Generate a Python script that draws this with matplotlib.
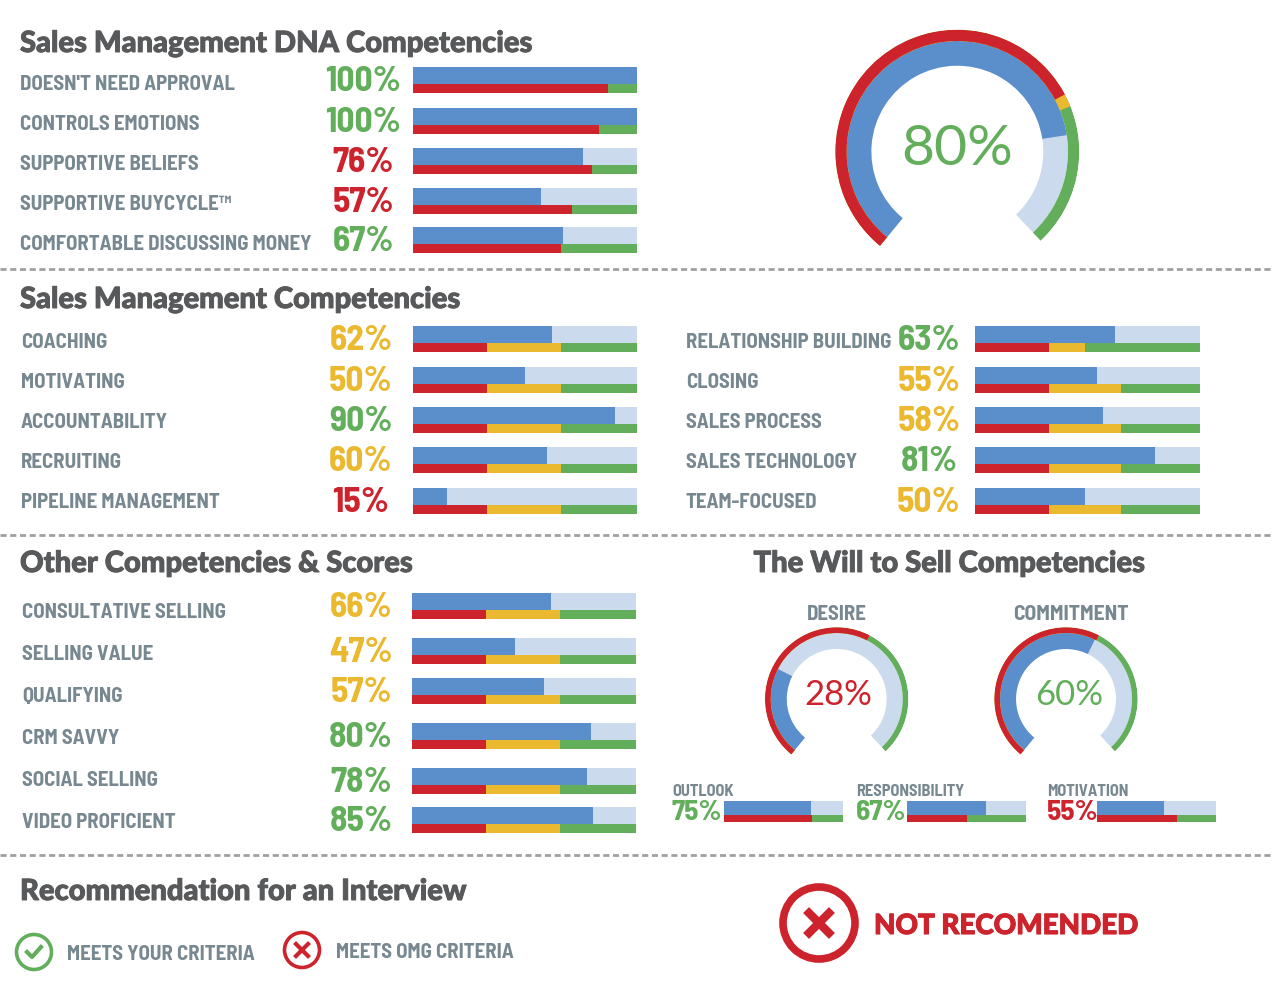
import numpy as np
import matplotlib
matplotlib.use("Agg")
import matplotlib.pyplot as plt
import matplotlib.patheffects as pe
from matplotlib.patches import Circle

BLUE = "#5b8fcc"
LIGHT = "#ccdaee"
RED = "#cc232d"
YELLOW = "#ebb92f"
GREEN = "#62ae5b"
LABEL = "#778891"
TITLE = "#58595b"
DASH = "#a0a0a0"

NARROW = ["Barlow Semi Condensed", "Roboto", "DejaVu Sans"]
HEAD = ["Lato", "DejaVu Sans"]

# DNA rows
dna_labels = ["DOESN'T NEED APPROVAL", "CONTROLS EMOTIONS", "SUPPORTIVE BELIEFS", "SUPPORTIVE BUYCYCLE™", "COMFORTABLE DISCUSSING MONEY"]
dna_scores = [100, 100, 76, 57, 67]
dna_colors = [GREEN, GREEN, RED, RED, GREEN]
dna_red = [87, 83, 80, 71, 66]
dna_yellow = [87, 83, 80, 71, 66]

# sales management, left column
mgmt_labels = ["COACHING", "MOTIVATING", "ACCOUNTABILITY", "RECRUITING", "PIPELINE MANAGEMENT"]
mgmt_scores = [62, 50, 90, 60, 15]
mgmt_colors = [YELLOW, YELLOW, GREEN, YELLOW, RED]
mgmt_red = [33, 33, 33, 33, 33]
mgmt_yellow = [66, 66, 66, 66, 66]

# sales management, right column
mgmt2_labels = ["RELATIONSHIP BUILDING", "CLOSING", "SALES PROCESS", "SALES TECHNOLOGY", "TEAM-FOCUSED"]
mgmt2_scores = [62, 54, 57, 80, 49]
mgmt2_text = [63, 55, 58, 81, 50]
mgmt2_colors = [GREEN, YELLOW, YELLOW, GREEN, YELLOW]
mgmt2_red = [33, 33, 33, 33, 33]
mgmt2_yellow = [49, 65, 65, 65, 65]

# other competencies
other_labels = ["CONSULTATIVE SELLING", "SELLING VALUE", "QUALIFYING", "CRM SAVVY", "SOCIAL SELLING", "VIDEO PROFICIENT"]
other_scores = [62, 46, 59, 80, 78, 81]
other_text = [66, 47, 57, 80, 78, 85]
other_colors = [YELLOW, YELLOW, YELLOW, GREEN, GREEN, GREEN]
other_red = [33, 33, 33, 33, 33, 33]
other_yellow = [66, 66, 66, 66, 66, 66]

# will to sell
small_labels = ["OUTLOOK", "RESPONSIBILITY", "MOTIVATION"]
small_scores = [75, 67, 55]
small_blue = [73, 66, 56]
small_colors = [GREEN, GREEN, RED]
small_red = [74, 50, 67]

# gauges
main_gauge = {"score": 80, "red": 73, "yellow": 75.2, "color": GREEN}
desire_gauge = {"score": 28, "red": 60.5, "yellow": 60.5, "color": RED}
commit_gauge = {"score": 60, "red": 60.5, "yellow": 60.5, "color": GREEN}

fig = plt.figure(figsize=(12.72, 10), dpi=100)
ax = fig.add_axes([0, 0, 1, 1])
ax.set_xlim(0, 1272)
ax.set_ylim(1000, 0)
ax.axis("off")


def score_bar(x, y, w, blue, red, yellow, h1=17, h2=9):
    ax.barh(y, w, h1, left=x, color=LIGHT, align="edge")
    ax.barh(y, w * blue / 100, h1, left=x, color=BLUE, align="edge")
    ax.barh(y + h1, w, h2, left=x, color=GREEN, align="edge")
    ax.barh(y + h1, w * yellow / 100, h2, left=x, color=YELLOW, align="edge")
    ax.barh(y + h1, w * red / 100, h2, left=x, color=RED, align="edge")


def rows(labels, scores, shown, colors, reds, yellows, ys, label_ys, lx, px, bx, bw):
    for i in range(len(labels)):
        ax.text(lx, label_ys[i], labels[i], color=LABEL, fontsize=15, family=NARROW, weight="bold",
                va="center", ha="left")
        ax.text(px, ys[i] + 15, "%d%%" % shown[i], color=colors[i], fontsize=25.5, family=NARROW, weight="bold",
                va="center", ha="center")
        score_bar(bx, ys[i], bw, scores[i], reds[i], yellows[i])


def gauge(cx, cy, r_out, r_ring, r_in, g, fs, tx=0):
    # polar axes placed in pixels, value 0-100 runs clockwise along the arc
    pa = fig.add_axes([(cx - r_out) / 1272, 1 - (cy + r_out) / 1000, 2 * r_out / 1272, 2 * r_out / 1000],
                      projection="polar")
    start = np.radians(230.6)
    span = np.radians(277.5)
    pa.set_theta_offset(start)
    pa.set_theta_direction(-1)
    pa.set_ylim(0, r_out)
    pa.patch.set_alpha(0)
    pa.axis("off")
    scale = span / 100
    pa.bar(0, r_ring - r_in, 100 * scale, bottom=r_in, color=LIGHT, align="edge", lw=0)
    pa.bar(0, r_ring - r_in, g["score"] * scale, bottom=r_in, color=BLUE, align="edge", lw=0)
    pa.bar(0, r_out - r_ring, 100 * scale, bottom=r_ring, color=GREEN, align="edge", lw=0)
    pa.bar(0, r_out - r_ring, g["yellow"] * scale, bottom=r_ring, color=YELLOW, align="edge", lw=0)
    pa.bar(0, r_out - r_ring, g["red"] * scale, bottom=r_ring, color=RED, align="edge", lw=0)
    ax.text(cx + tx, cy - 6 + r_out * 0.03, "%d%%" % g["score"], color=g["color"], fontsize=fs, family=HEAD,
            va="center", ha="center")


# section titles
for x, y, s in [(20, 44, "Sales Management DNA Competencies"), (20, 300, "Sales Management Competencies"),
                (20, 564, "Other Competencies & Scores"), (949, 564, "The Will to Sell Competencies"),
                (20, 892, "Recommendation for an Interview")]:
    ax.text(x, y, s, color=TITLE, fontsize=21, family=HEAD, weight="black", va="center",
            ha="center" if x > 100 else "left",
            path_effects=[pe.withStroke(linewidth=0.7, foreground=TITLE)])

for y in [269, 535, 855]:
    ax.plot([0, 1272], [y, y], color=DASH, lw=2, ls=(0, (2.2, 1.3)))

rows(dna_labels, dna_scores, dna_scores, dna_colors, dna_red, dna_yellow, [67, 108, 148, 188, 227],
     [84, 124, 164, 204, 244], 20, 363, 413, 224)
rows(mgmt_labels, mgmt_scores, mgmt_scores, mgmt_colors, mgmt_red, mgmt_yellow, [326, 367, 407, 447, 488],
     [342, 382, 422, 462, 503], 21, 361, 413, 224)
rows(mgmt2_labels, mgmt2_scores, mgmt2_text, mgmt2_colors, mgmt2_red, mgmt2_yellow, [326, 367, 407, 447, 488],
     [342, 382, 423, 463, 503], 686, 929, 975, 225)
rows(other_labels, other_scores, other_text, other_colors, other_red, other_yellow, [593, 638, 678, 723, 768, 807],
     [612, 654, 696, 738, 780, 823], 22, 361, 412, 224)

gauge(957.3, 151.7, 122, 110.7, 86, main_gauge, 41)
gauge(836.7, 699, 71.7, 66, 50, desire_gauge, 25, tx=2)
gauge(1066, 699, 71.7, 66, 50, commit_gauge, 25, tx=3)
ax.text(837, 614, "DESIRE", color=LABEL, fontsize=15, family=NARROW, weight="bold", va="center", ha="center")
ax.text(1071, 614, "COMMITMENT", color=LABEL, fontsize=15.5, family=NARROW, weight="bold", va="center", ha="center")

small_lx = [672, 856, 1047]
small_bx = [724, 907, 1097]
for i in range(3):
    ax.text(small_lx[i], 791, small_labels[i], color=LABEL, fontsize=11.8, family=NARROW, weight="bold", va="center")
    ax.text(small_lx[i], 813, "%d%%" % small_scores[i], color=small_colors[i], fontsize=21, family=NARROW,
            weight="bold", va="center")
    score_bar(small_bx[i], 801, 119, small_blue[i], small_red[i], small_red[i], h1=14, h2=7)

# recommendation icons
ax.add_patch(Circle((34, 952), 17.5, fill=False, ec=GREEN, lw=2.6))
ax.plot([27, 32, 41], [952, 957, 947], color=GREEN, lw=3)
ax.add_patch(Circle((302, 950), 17.5, fill=False, ec=RED, lw=2.6))
ax.plot([296, 308], [944, 956], color=RED, lw=3)
ax.plot([296, 308], [956, 944], color=RED, lw=3)
ax.text(67, 954, "MEETS YOUR CRITERIA", color=LABEL, fontsize=15, family=NARROW, weight="bold", va="center")
ax.text(336, 953, "MEETS OMG CRITERIA", color=LABEL, fontsize=15, family=NARROW, weight="bold", va="center")

ax.add_patch(Circle((819, 923), 36, fill=False, ec=RED, lw=5.5))
ax.plot([809, 829], [913, 933], color=RED, lw=6)
ax.plot([809, 829], [933, 913], color=RED, lw=6)
ax.text(874, 926, "NOT RECOMENDED", color=RED, fontsize=20, family=HEAD, weight="black", va="center",
        path_effects=[pe.withStroke(linewidth=0.8, foreground=RED)])

fig.savefig("out.png", dpi=100)
